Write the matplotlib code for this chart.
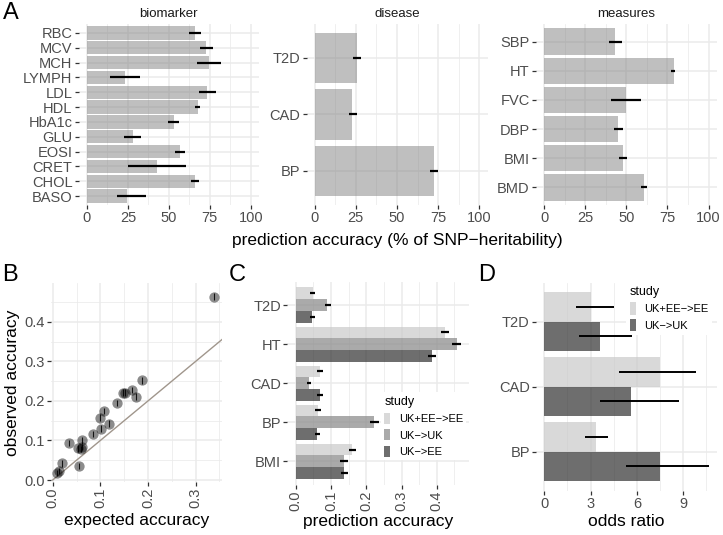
import matplotlib
matplotlib.use("Agg")
import matplotlib.pyplot as plt
from matplotlib.patches import Patch
import numpy as np

plt.rcParams['font.family'] = ['Liberation Sans', 'DejaVu Sans']

# ---------------- data ----------------
bio_traits = ['RBC', 'MCV', 'MCH', 'LYMPH', 'LDL', 'HDL', 'HbA1c', 'GLU', 'EOSI', 'CRET', 'CHOL', 'BASO']
bio_acc = [66.0, 72.8, 74.4, 23.0, 73.4, 67.9, 53.3, 27.8, 56.9, 42.7, 66.0, 24.6]
bio_lo = [62.4, 69.1, 67.0, 14.2, 68.3, 65.7, 49.6, 22.8, 53.5, 25.0, 63.4, 18.3]
bio_hi = [69.7, 76.8, 81.7, 32.1, 78.9, 69.3, 56.5, 33.1, 60.0, 60.6, 68.7, 35.8]

dis_traits = ['T2D', 'CAD', 'BP']
dis_acc = [25.5, 22.9, 72.5]
dis_lo = [23.1, 20.6, 70.2]
dis_hi = [27.9, 25.5, 74.9]

mea_traits = ['SBP', 'HT', 'FVC', 'DBP', 'BMI', 'BMD']
mea_acc = [43.4, 78.7, 49.9, 45.0, 47.9, 60.9]
mea_lo = [39.6, 77.3, 40.6, 42.4, 45.6, 59.2]
mea_hi = [47.3, 79.9, 58.8, 48.1, 50.5, 62.5]

pct_ticks = [0, 25, 50, 75, 100]

exp_acc = [0.338, 0.187, 0.176, 0.166, 0.152, 0.147, 0.136, 0.108, 0.099, 0.118, 0.102,
           0.084, 0.035, 0.062, 0.054, 0.059, 0.061, 0.056, 0.020, 0.013, 0.010]
obs_acc = [0.464, 0.253, 0.211, 0.227, 0.221, 0.221, 0.195, 0.175, 0.158, 0.143, 0.130,
           0.116, 0.093, 0.100, 0.080, 0.078, 0.084, 0.035, 0.042, 0.023, 0.018]
obs_err = [0.009, 0.009, 0.008, 0.008, 0.009, 0.009, 0.008, 0.008, 0.008, 0.008, 0.008,
           0.008, 0.008, 0.008, 0.008, 0.008, 0.008, 0.008, 0.008, 0.008, 0.008]

c_traits = ['T2D', 'HT', 'CAD', 'BP', 'BMI']
c_studies = ['UK+EE\u2212>EE', 'UK\u2212>UK', 'UK\u2212>EE']
c_acc_ukee_ee = [0.048, 0.424, 0.069, 0.063, 0.160]
c_lo_ukee_ee = [0.041, 0.411, 0.061, 0.056, 0.150]
c_hi_ukee_ee = [0.056, 0.436, 0.078, 0.072, 0.171]
c_acc_uk_uk = [0.090, 0.457, 0.037, 0.222, 0.136]
c_lo_uk_uk = [0.083, 0.444, 0.031, 0.211, 0.126]
c_hi_uk_uk = [0.099, 0.469, 0.044, 0.235, 0.147]
c_acc_uk_ee = [0.046, 0.387, 0.069, 0.061, 0.137]
c_lo_uk_ee = [0.041, 0.375, 0.061, 0.055, 0.128]
c_hi_uk_ee = [0.055, 0.399, 0.078, 0.069, 0.148]

d_traits = ['T2D', 'CAD', 'BP']
d_studies = ['UK+EE\u2212>EE', 'UK\u2212>UK']
d_or_ukee_ee = [3.02, 7.49, 3.33]
d_lo_ukee_ee = [2.03, 4.84, 2.66]
d_hi_ukee_ee = [4.54, 9.83, 4.15]
d_or_uk_uk = [3.63, 5.62, 7.52]
d_lo_uk_uk = [2.25, 3.61, 5.29]
d_hi_uk_uk = [5.66, 8.73, 10.65]

# ---------------- style ----------------
W, H = 723, 535
fig = plt.figure(figsize=(W / 100, H / 100), dpi=100)

GRID = '#EBEBEB'
TICKC = '#333333'
LABC = '#4D4D4D'
TS = 10.5
AXT = 12.5


def px_axes(x0, x1, y0, y1):
    return fig.add_axes([x0 / W, 1 - y1 / H, (x1 - x0) / W, (y1 - y0) / H])


def style(ax, xmaj, xmin, ymaj=None, ymin=None):
    for s in ax.spines.values():
        s.set_visible(False)
    ax.set_axisbelow(True)
    ax.set_xticks(xmaj)
    ax.set_xticks(xmin, minor=True)
    if ymaj is not None:
        ax.set_yticks(ymaj)
    if ymin is not None:
        ax.set_yticks(ymin, minor=True)
    ax.grid(True, which='major', color=GRID, lw=1.1)
    ax.grid(True, which='minor', color=GRID, lw=0.55)
    ax.tick_params(which='major', length=3, width=0.9, color=TICKC, labelcolor=LABC,
                   labelsize=TS, pad=1.5)
    ax.tick_params(which='minor', length=0)


def cat_bar(ax, traits, acc, lo, hi, title):
    n = len(traits)
    y = np.arange(n)[::-1]
    ax.barh(y, acc, height=0.9, color=(0.5, 0.5, 0.5, 0.5), lw=0)
    ax.hlines(y, lo, hi, color='black', lw=1.6, zorder=3)
    ax.set_ylim(-0.6, n - 0.4)
    ax.set_xlim(-5, 105)
    style(ax, pct_ticks, [12.5, 37.5, 62.5, 87.5], y)
    ax.set_yticklabels(traits)
    ax.set_xticklabels([str(t) for t in pct_ticks])
    ax.set_title(title, fontsize=9.5, color='#1A1A1A', pad=5)


# ---------------- panel A ----------------
axA1 = px_axes(78.8, 258.9, 24.1, 204.9)
cat_bar(axA1, bio_traits, bio_acc, bio_lo, bio_hi, 'biomarker')
axA2 = px_axes(306.5, 487.5, 24.1, 204.9)
cat_bar(axA2, dis_traits, dis_acc, dis_lo, dis_hi, 'disease')
axA3 = px_axes(535.8, 716.8, 24.1, 204.9)
cat_bar(axA3, mea_traits, mea_acc, mea_lo, mea_hi, 'measures')
fig.text(397.8 / W, 1 - 240 / H, 'prediction accuracy (% of SNP\u2212heritability)',
         ha='center', va='center', fontsize=AXT)

# ---------------- panel B ----------------
axB = px_axes(50.7, 221.7, 283, 481.7)
ax = axB
ax.plot([0, 0.4], [0, 0.4], color='#A0968C', lw=1.0, zorder=2)
ax.errorbar(exp_acc, obs_acc, yerr=obs_err, fmt='none', ecolor='#222222', elinewidth=0.8,
            capsize=0, zorder=3)
ax.scatter(exp_acc, obs_acc, s=55, color='black', alpha=0.45, lw=0, zorder=4)
ax.set_xlim(-0.0042, 0.355)
ax.set_ylim(-0.0043, 0.4987)
style(ax, [0, 0.1, 0.2, 0.3], [0.05, 0.15, 0.25, 0.35], [0, 0.1, 0.2, 0.3, 0.4],
      [0.05, 0.15, 0.25, 0.35, 0.45])
ax.set_xticklabels(['0.0', '0.1', '0.2', '0.3'], rotation=90)
ax.set_yticklabels(['0.0', '0.1', '0.2', '0.3', '0.4'])
ax.set_xlabel('expected accuracy', fontsize=AXT, labelpad=3)
ax.set_ylabel('observed accuracy', fontsize=AXT, labelpad=3)

# ---------------- panel C ----------------
axC = px_axes(287.4, 469.2, 281.6, 484.7)
ax = axC
n = len(c_traits)
yc = np.arange(n)[::-1]
c_cols = [(0.79, 0.79, 0.79, 0.7), (0.53, 0.53, 0.53, 0.7), (0.19, 0.19, 0.19, 0.7)]
c_series = [(c_acc_ukee_ee, c_lo_ukee_ee, c_hi_ukee_ee),
            (c_acc_uk_uk, c_lo_uk_uk, c_hi_uk_uk),
            (c_acc_uk_ee, c_lo_uk_ee, c_hi_uk_ee)]
bw = 0.3
for k, (acc, lo, hi) in enumerate(c_series):
    yy = yc + bw * (1 - k)
    ax.barh(yy, acc, height=bw, color=c_cols[k], lw=0, label=c_studies[k])
    ax.hlines(yy, lo, hi, color='black', lw=1.6, zorder=3)
ax.set_ylim(-0.6, n - 0.4)
ax.set_xlim(-0.0236, 0.492)
style(ax, [0, 0.1, 0.2, 0.3, 0.4], [0.05, 0.15, 0.25, 0.35, 0.45], yc)
ax.set_yticklabels(c_traits)
ax.set_xticklabels(['0.0', '0.1', '0.2', '0.3', '0.4'], rotation=90)
ax.set_xlabel('prediction accuracy', fontsize=AXT, labelpad=2)
hC = [Patch(facecolor=c_cols[k], edgecolor='none', label=c_studies[k]) for k in range(3)]
legC = ax.legend(handles=hC, title='study', loc='upper left', bbox_to_anchor=(0.515, 0.455),
                 fontsize=8, title_fontsize=9, frameon=True, fancybox=False,
                 handlelength=0.55, handleheight=1.2, labelspacing=0.45,
                 handletextpad=0.75, borderpad=0.3, alignment='left', borderaxespad=0)
legC.get_frame().set_facecolor('white')
legC.get_frame().set_edgecolor('none')
legC.get_frame().set_alpha(1)

# ---------------- panel D ----------------
axD = px_axes(536, 716.9, 282.7, 490.7)
ax = axD
n = len(d_traits)
yd = np.arange(n)[::-1]
d_cols = [(0.79, 0.79, 0.79, 0.7), (0.19, 0.19, 0.19, 0.7)]
d_series = [(d_or_ukee_ee, d_lo_ukee_ee, d_hi_ukee_ee), (d_or_uk_uk, d_lo_uk_uk, d_hi_uk_uk)]
bw = 0.45
for k, (acc, lo, hi) in enumerate(d_series):
    yy = yd + bw * (0.5 - k)
    ax.barh(yy, acc, height=bw, color=d_cols[k], lw=0, label=d_studies[k])
    ax.hlines(yy, lo, hi, color='black', lw=1.4, zorder=3)
ax.set_ylim(-0.6, n - 0.4)
ax.set_xlim(-0.53, 11.18)
style(ax, [0, 3, 6, 9], [1.5, 4.5, 7.5, 10.5], yd)
ax.set_yticklabels(d_traits)
ax.set_xticklabels(['0', '3', '6', '9'])
ax.set_xlabel('odds ratio', fontsize=AXT, labelpad=2)
hD = [Patch(facecolor=d_cols[k], edgecolor='none', label=d_studies[k]) for k in range(2)]
legD = ax.legend(handles=hD, title='study', loc='upper left', bbox_to_anchor=(0.5, 1.0),
                 fontsize=8, title_fontsize=9, frameon=True, fancybox=False,
                 handlelength=0.6, handleheight=1.4, labelspacing=0.35,
                 handletextpad=0.7, borderpad=0.3, alignment='left', borderaxespad=0)
legD.get_frame().set_facecolor('white')
legD.get_frame().set_edgecolor('none')
legD.get_frame().set_alpha(1)

# ---------------- panel letters ----------------
for lab, x, y in [('A', 11, 13), ('B', 10, 275), ('C', 237, 275), ('D', 487, 275)]:
    fig.text(x / W, 1 - y / H, lab, fontsize=17, ha='center', va='center')

fig.savefig('out.png', dpi=100)
